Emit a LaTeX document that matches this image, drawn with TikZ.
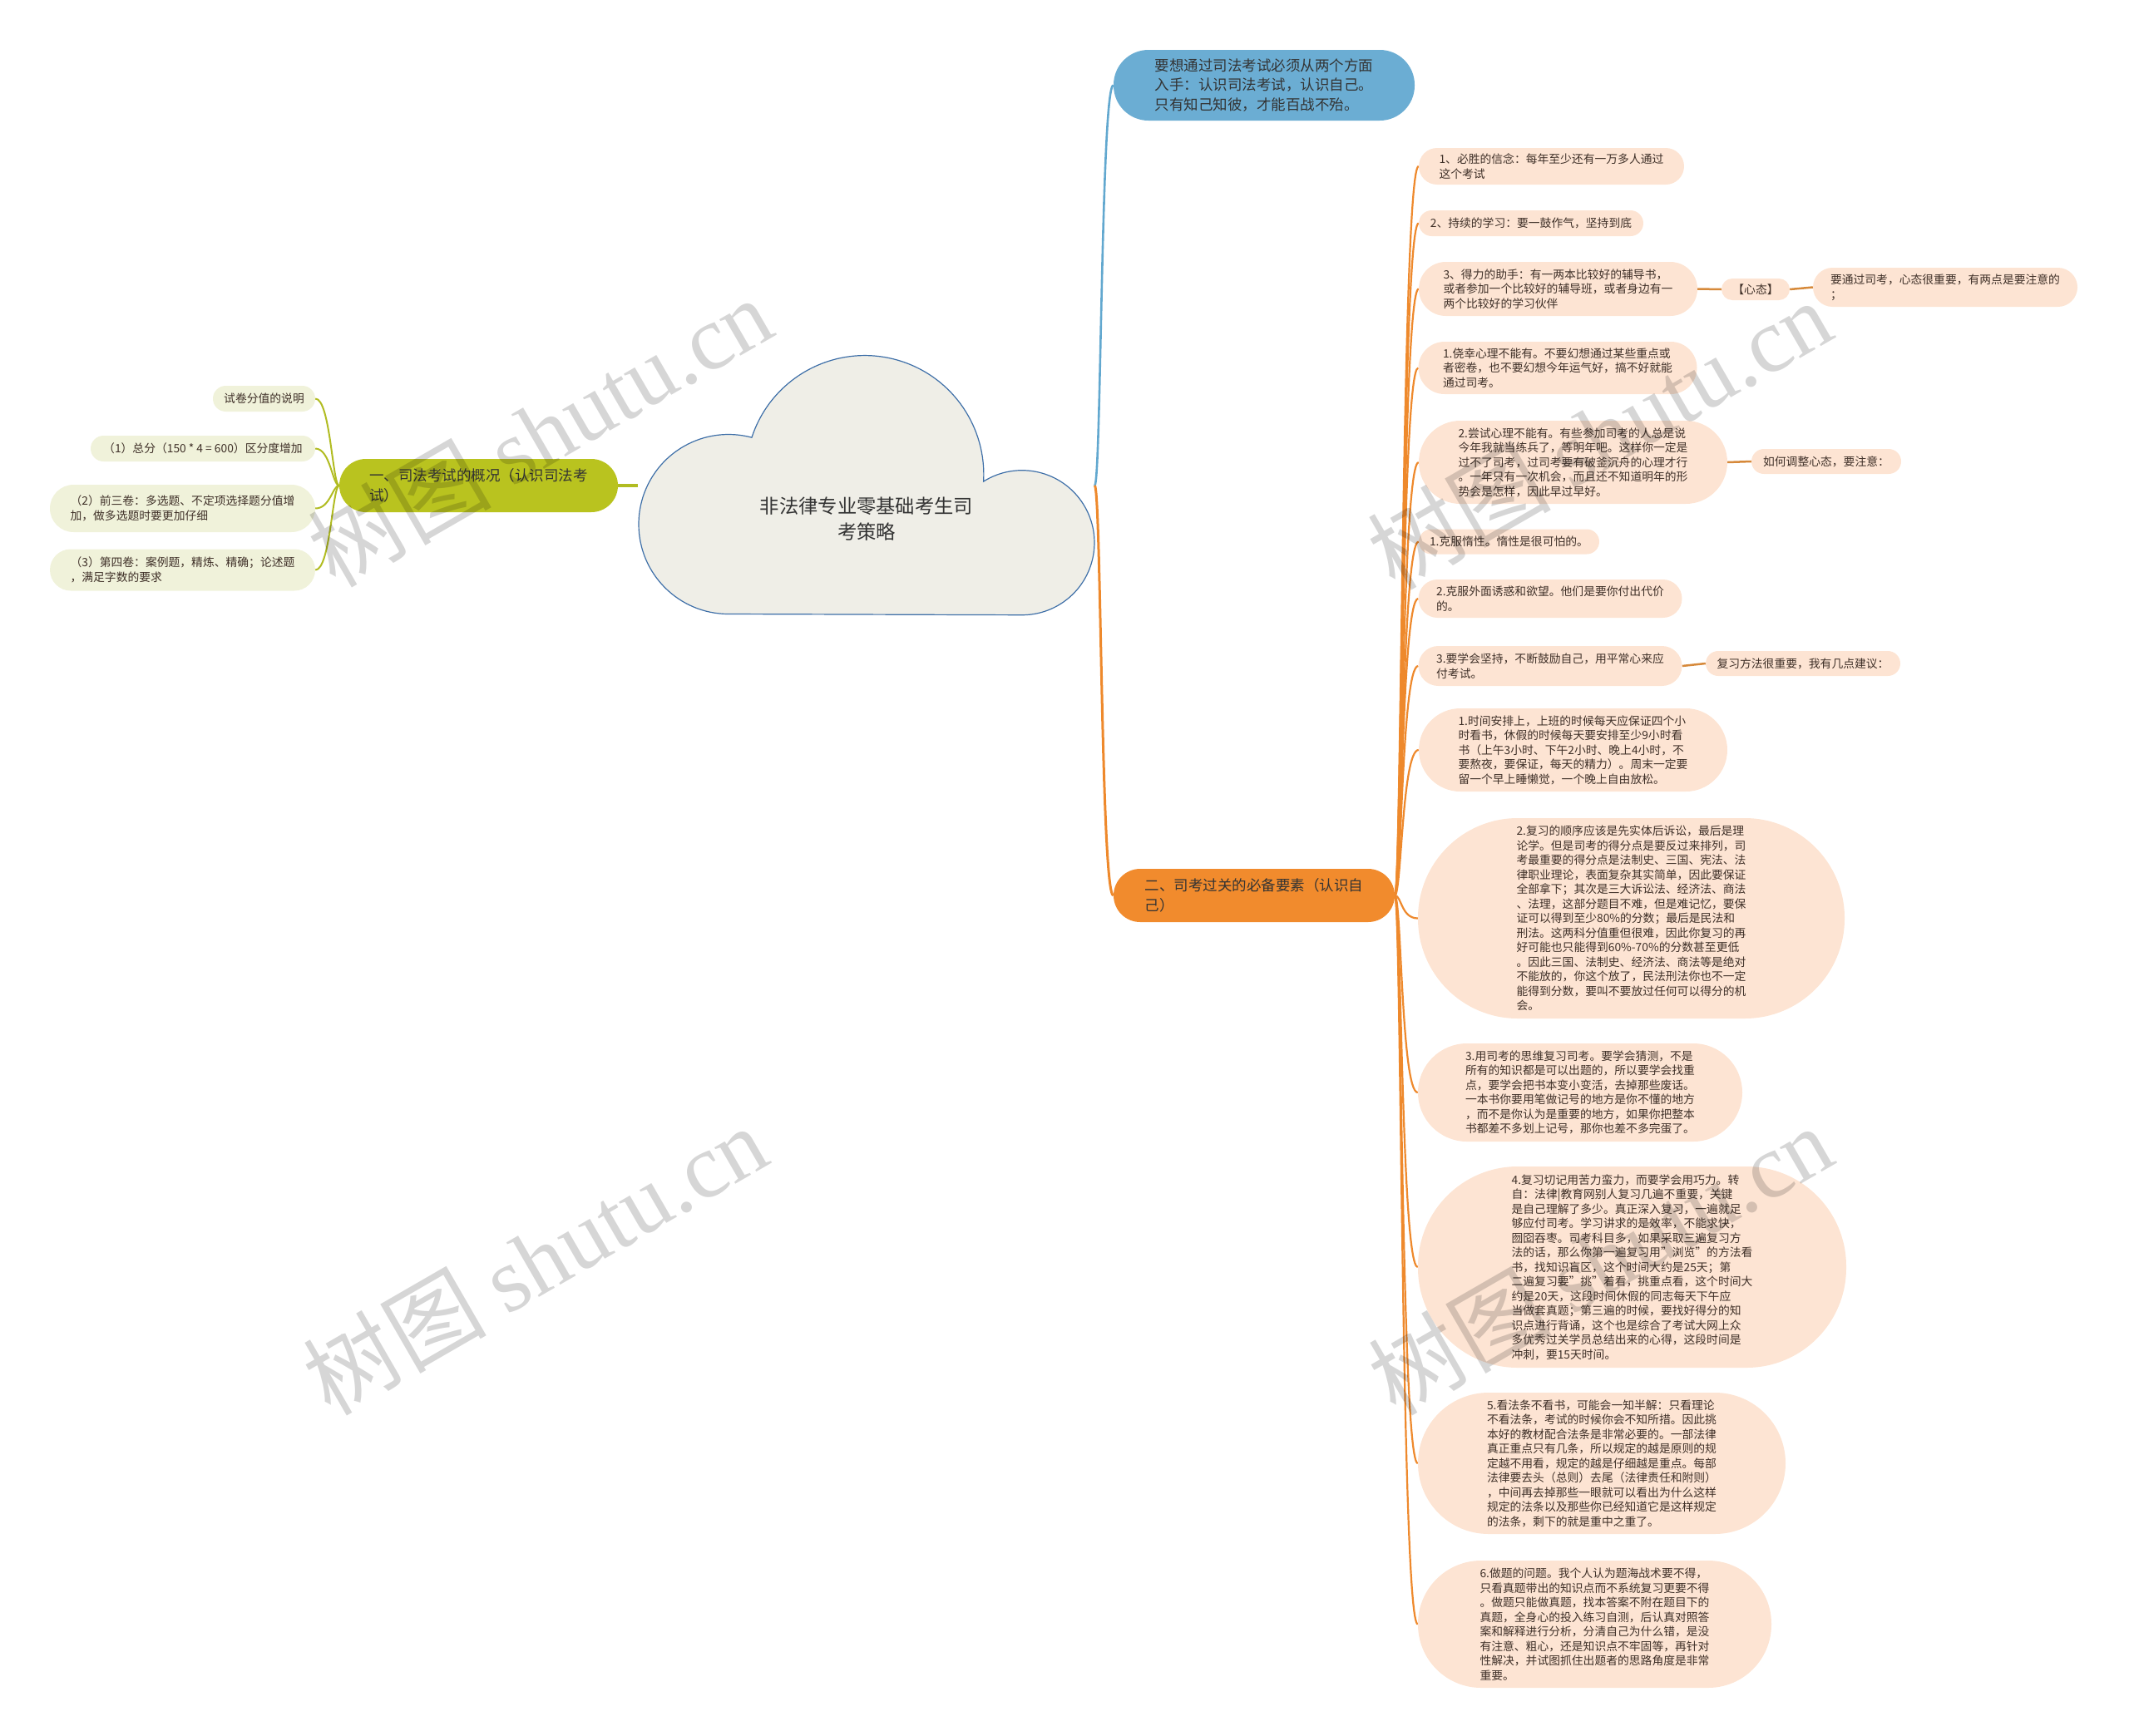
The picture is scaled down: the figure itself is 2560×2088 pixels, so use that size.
\documentclass[tikz,border=0pt]{standalone}
\usepackage{fontspec}
\setmainfont{Noto Sans CJK SC}
\newfontfamily\wmserif{Liberation Serif}
\usetikzlibrary{backgrounds}
\definecolor{cOliveFill}{HTML}{B9C31F}
\definecolor{cOliveLight}{HTML}{F0F2DA}
\definecolor{cOliveLine}{HTML}{B1BC22}
\definecolor{cBlueFill}{HTML}{6BADD3}
\definecolor{cBlueLine}{HTML}{62A8CF}
\definecolor{cOrangeFill}{HTML}{F18B2D}
\definecolor{cOrangeLine}{HTML}{EE892C}
\definecolor{cShort}{HTML}{D6893A}
\definecolor{cPeach}{HTML}{FDE4D3}
\definecolor{cCloudFill}{HTML}{EFEEE7}
\definecolor{cCloudLine}{HTML}{3E6FA8}
\definecolor{cText}{HTML}{333333}
\definecolor{cTextBrown}{HTML}{3F3028}
\tikzset{
  pill/.style n args={3}{rectangle, minimum width=#1, minimum height=#2, rounded corners=#3, inner sep=0pt, align=left},
  smalltext/.style={font=\fontsize{13.8}{17.5}\selectfont, text=cTextBrown},
  bigtext/.style={font=\fontsize{17.5}{23.5}\selectfont, text=cText},
  peach/.style={fill=cPeach, smalltext},
  oliv/.style={fill=cOliveLight, smalltext},
  olink/.style={draw=cOrangeLine, line width=2.2pt},
  glink/.style={draw=cOliveLine, line width=2pt},
  blink/.style={draw=cBlueLine, line width=2.6pt},
  slink/.style={draw=cShort, line width=2.5pt},
  cloudshape/.style={fill=cCloudFill, draw=cCloudLine, line width=1.2pt},
  wm/.style={font=\fontsize{110}{110}\selectfont, text=black, text opacity=0.16, inner sep=0pt},
}
\begin{document}
\begin{tikzpicture}[x=1pt,y=1pt]
\useasboundingbox (0,0) rectangle (2560,-2088);

% central cloud
\draw[cloudshape] (876,-738.5) arc[start angle=270, end angle=75, radius=108pt]
  arc[start angle=161.9, end angle=-3.4, radius=143pt]
  arc[start angle=122.2, end angle=-90, radius=87pt] -- cycle;
\node[minimum width=549pt, minimum height=311pt, inner sep=0pt] (root) at (1041.5,-584) {};
\node[font=\fontsize{23.3}{31}\selectfont, text=cText, align=center] (roottext) at (1042,-624) {非法律专业零基础考生司\\考策略};

% left branch
\node[pill={335pt}{64pt}{32pt}, fill=cOliveFill, bigtext] (L0) at (575.5,-584) {一、司法考试的概况（认识司法考\\试）};
\node[pill={123pt}{31pt}{15.5pt}, oliv] (L1) at (317.5,-479.5) {试卷分值的说明};
\node[pill={270pt}{31pt}{15.5pt}, oliv] (L2) at (244,-539.5) {（1）总分（150 * 4 = 600）区分度增加};
\node[pill={319pt}{57pt}{28.5pt}, oliv] (L3) at (219.5,-611.5) {（2）前三卷：多选题、不定项选择题分值增\\加，做多选题时要更加仔细};
\node[pill={319pt}{50pt}{25pt}, oliv] (L4) at (219.5,-685.5) {（3）第四卷：案例题，精炼、精确；论述题\\，满足字数的要求};

% blue and orange main nodes
\node[pill={362pt}{85pt}{42pt}, fill=cBlueFill, bigtext] (B) at (1520,-102.5) {要想通过司法考试必须从两个方面\\入手：认识司法考试，认识自己。\\只有知己知彼，才能百战不殆。};
\node[pill={338pt}{64pt}{32pt}, fill=cOrangeFill, bigtext] (O) at (1508,-1077) {二、司考过关的必备要素（认识自\\己）};

% right children
\node[pill={319pt}{44pt}{22pt}, peach] (R1) at (1865.5,-200) {1、必胜的信念：每年至少还有一万多人通过\\这个考试};
\node[pill={270pt}{31pt}{15.5pt}, peach] (R2) at (1841,-268.5) {2、持续的学习：要一鼓作气，坚持到底};
\node[pill={335pt}{65pt}{32.5pt}, peach] (R3) at (1873.5,-347.5) {3、得力的助手：有一两本比较好的辅导书，\\或者参加一个比较好的辅导班，或者身边有一\\两个比较好的学习伙伴};
\node[pill={82pt}{26pt}{13pt}, peach] (R3a) at (2111,-348) {【心态】};
\node[pill={318pt}{47pt}{23.5pt}, peach] (R3b) at (2339,-345.5) {要通过司考，心态很重要，有两点是要注意的\\；};
\node[pill={335pt}{63pt}{31.5pt}, peach] (R4) at (1873,-442.5) {1.侥幸心理不能有。不要幻想通过某些重点或\\者密卷，也不要幻想今年运气好，搞不好就能\\通过司考。};
\node[pill={371pt}{100pt}{50pt}, peach] (R5) at (1891.5,-556) {2.尝试心理不能有。有些参加司考的人总是说\\今年我就当练兵了，等明年吧。这样你一定是\\过不了司考，过司考要有破釜沉舟的心理才行\\。一年只有一次机会，而且还不知道明年的形\\势会是怎样，因此早过早好。};
\node[pill={180pt}{30pt}{15pt}, peach] (R5a) at (2196,-555) {如何调整心态，要注意：};
\node[pill={217pt}{30pt}{15pt}, peach] (R6) at (1814.5,-651.5) {1.克服惰性。惰性是很可怕的。};
\node[pill={317pt}{46pt}{23pt}, peach] (R7) at (1864,-720) {2.克服外面诱惑和欲望。他们是要你付出代价\\的。};
\node[pill={317pt}{48pt}{24pt}, peach] (R8) at (1864,-801) {3.要学会坚持，不断鼓励自己，用平常心来应\\付考试。};
\node[pill={234pt}{30pt}{15pt}, peach] (R8a) at (2168,-798) {复习方法很重要，我有几点建议：};
\node[pill={371pt}{100pt}{50pt}, peach] (R9) at (1891.5,-902) {1.时间安排上，上班的时候每天应保证四个小\\时看书，休假的时候每天要安排至少9小时看\\书（上午3小时、下午2小时、晚上4小时，不\\要熬夜，要保证，每天的精力）。周末一定要\\留一个早上睡懒觉，一个晚上自由放松。};
\node[pill={513pt}{241pt}{120pt}, peach] (R10) at (1961.5,-1104.5) {2.复习的顺序应该是先实体后诉讼，最后是理\\论学。但是司考的得分点是要反过来排列，司\\考最重要的得分点是法制史、三国、宪法、法\\律职业理论，表面复杂其实简单，因此要保证\\全部拿下；其次是三大诉讼法、经济法、商法\\、法理，这部分题目不难，但是难记忆，要保\\证可以得到至少80\%的分数；最后是民法和\\刑法。这两科分值重但很难，因此你复习的再\\好可能也只能得到60\%-70\%的分数甚至更低\\。因此三国、法制史、经济法、商法等是绝对\\不能放的，你这个放了，民法刑法你也不一定\\能得到分数，要叫不要放过任何可以得分的机\\会。};
\node[pill={390pt}{118pt}{59pt}, peach] (R11) at (1900,-1314) {3.用司考的思维复习司考。要学会猜测，不是\\所有的知识都是可以出题的，所以要学会找重\\点，要学会把书本变小变活，去掉那些废话。\\一本书你要用笔做记号的地方是你不懂的地方\\，而不是你认为是重要的地方，如果你把整本\\书都差不多划上记号，那你也差不多完蛋了。};
\node[pill={515pt}{242pt}{120pt}, peach] (R12) at (1962.5,-1524) {4.复习切记用苦力蛮力，而要学会用巧力。转\\自：法律|教育网别人复习几遍不重要，关键\\是自己理解了多少。真正深入复习，一遍就足\\够应付司考。学习讲求的是效率，不能求快，\\囫囵吞枣。司考科目多，如果采取三遍复习方\\法的话，那么你第一遍复习用"浏览"的方法看\\书，找知识盲区，这个时间大约是25天；第\\二遍复习要"挑"着看，挑重点看，这个时间大\\约是20天，这段时间休假的同志每天下午应\\当做套真题；第三遍的时候，要找好得分的知\\识点进行背诵，这个也是综合了考试大网上众\\多优秀过关学员总结出来的心得，这段时间是\\冲刺，要15天时间。};
\node[pill={442pt}{170pt}{85pt}, peach] (R13) at (1926,-1760) {5.看法条不看书，可能会一知半解：只看理论\\不看法条，考试的时候你会不知所措。因此挑\\本好的教材配合法条是非常必要的。一部法律\\真正重点只有几条，所以规定的越是原则的规\\定越不用看，规定的越是仔细越是重点。每部\\法律要去头（总则）去尾（法律责任和附则）\\，中间再去掉那些一眼就可以看出为什么这样\\规定的法条以及那些你已经知道它是这样规定\\的法条，剩下的就是重中之重了。};
\node[pill={425pt}{153pt}{76pt}, peach] (R14) at (1917.5,-1953.5) {6.做题的问题。我个人认为题海战术要不得，\\只看真题带出的知识点而不系统复习更要不得\\。做题只能做真题，找本答案不附在题目下的\\真题，全身心的投入练习自测，后认真对照答\\案和解释进行分析，分清自己为什么错，是没\\有注意、粗心，还是知识点不牢固等，再针对\\性解决，并试图抓住出题者的思路角度是非常\\重要。};

% connectors
\begin{scope}[on background layer]
\draw[glink, line width=4pt] (L0.east) -- (root.west);
\foreach \c in {L1,L2,L3,L4}
  \draw[glink] (L0.west) .. controls +(-8,0) and +(18,0) .. (\c.east);
\draw[blink] (root.east) .. controls +(8,0) and +(-15,0) .. (B.west);
\draw[olink, line width=3pt] (root.east) .. controls +(8,0) and +(-15,0) .. (O.west);
\foreach \c in {R1,R2,R3,R4,R5,R6,R7,R8,R9,R10,R11,R12,R13,R14}
  \draw[olink] (O.east) .. controls +(8,0) and +(-20,0) .. (\c.west);
\draw[slink] (R3.east) -- (R3a.west);
\draw[slink] (R3a.east) -- (R3b.west);
\draw[slink] (R5.east) -- (R5a.west);
\draw[slink] (R8.east) -- (R8a.west);
\end{scope}

% watermarks
\node[wm, rotate=30] (wm1) at (649,-519) {树图 {\wmserif shutu.cn}};
\node[wm, rotate=30] (wm2) at (1923,-522) {树图 {\wmserif shutu.cn}};
\node[wm, rotate=30] (wm3) at (643,-1515) {树图 {\wmserif shutu.cn}};
\node[wm, rotate=30] (wm4) at (1924,-1515) {树图 {\wmserif shutu.cn}};
\end{tikzpicture}
\end{document}
